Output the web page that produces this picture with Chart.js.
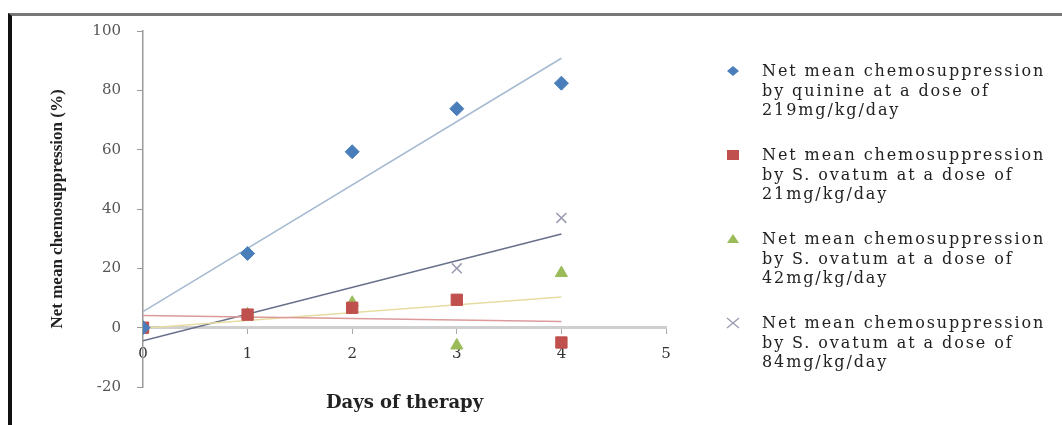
<!DOCTYPE html>
<html>
<head>
<meta charset="utf-8">
<title>Net mean chemosuppression</title>
<script src="https://cdn.jsdelivr.net/npm/chart.js@4.4.1/dist/chart.umd.min.js"></script>
<style>
  html, body { margin: 0; padding: 0; background: #fff; }
  #wrap { position: relative; width: 1062px; height: 425px; overflow: hidden; background: #fff; }
  #frame { position: absolute; left: 8px; top: 13px; right: -10px; bottom: -10px;
           border-left: 4px solid #111; border-top: 3px solid #777; }
  #chart { position: absolute; left: 0; top: 0; }
  #legend { position: absolute; left: 724px; top: 61px; font-family: "DejaVu Serif", serif;
            font-size: 16px; color: #222; letter-spacing: 1.9px; }
  .item { position: relative; height: 84px; }
  .item svg { position: absolute; left: 0; top: 2px; }
  .item .txt { position: absolute; left: 38px; top: 0; line-height: 19.5px; white-space: nowrap; }
</style>
</head>
<body>
<div id="wrap">
  <div id="frame"></div>
  <canvas id="chart" width="1062" height="425"></canvas>
  <div id="legend"></div>
</div>
<script>
// Days of therapy
const days = [0, 1, 2, 3, 4];

// Net mean chemosuppression (%)
const quinine219 = [0, 25, 59.3, 73.8, 82.4];
const ovatum21 = [0, 4.4, 6.7, 9.4, -5];
const ovatum42 = [0, 4.5, 8.4, -6, 18.4];
const ovatum84 = [0, 4, 7, 20, 37];

const seriesLabels = [
  ['Net mean chemosuppression', 'by quinine at a dose of', '219mg/kg/day'],
  ['Net mean chemosuppression', 'by S. ovatum at a dose of', '21mg/kg/day'],
  ['Net mean chemosuppression', 'by S. ovatum at a dose of', '42mg/kg/day'],
  ['Net mean chemosuppression', 'by S. ovatum at a dose of', '84mg/kg/day']
];

const xTitle = 'Days of therapy';
const yTitle = 'Net mean chemosuppression (%)';

const markerColors = ['#4a7ebb', '#c0504d', '#9bbb59', '#9a9ab2'];
const trendColors = ['#a6bad2', '#dc9a9a', '#e6dca2', '#66708a'];
const markerStyles = ['rectRot', 'rect', 'triangle', 'crossRot'];
const markerSizes = [7, 8, 7, 7];

// least squares line through a series, from first to last day
function trendLine(xs, ys) {
  const n = xs.length;
  const mx = xs.reduce((a, b) => a + b, 0) / n;
  const my = ys.reduce((a, b) => a + b, 0) / n;
  let sxy = 0, sxx = 0;
  for (let i = 0; i < n; i++) {
    sxy += (xs[i] - mx) * (ys[i] - my);
    sxx += (xs[i] - mx) * (xs[i] - mx);
  }
  const m = sxy / sxx;
  const b = my - m * mx;
  return [{ x: xs[0], y: b + m * xs[0] }, { x: xs[n - 1], y: b + m * xs[n - 1] }];
}

const allSeries = [quinine219, ovatum21, ovatum42, ovatum84];
const datasets = [];

allSeries.forEach((vals, i) => {
  datasets.push({
    label: seriesLabels[i].join(' '),
    data: days.map((d, k) => ({ x: d, y: vals[k] })),
    pointStyle: markerStyles[i],
    pointRadius: markerSizes[i],
    backgroundColor: markerColors[i],
    borderColor: markerColors[i],
    borderWidth: markerStyles[i] === 'crossRot' ? 1.5 : 1,
    showLine: false,
    order: 0
  });
});

allSeries.forEach((vals, i) => {
  datasets.push({
    label: 'trend ' + (i + 1),
    data: trendLine(days, vals),
    showLine: true,
    pointRadius: 0,
    borderColor: trendColors[i],
    borderWidth: 1.5,
    fill: false,
    order: 1
  });
});

const chart = new Chart(document.getElementById('chart'), {
  type: 'scatter',
  data: { datasets },
  options: {
    responsive: false,
    animation: false,
    layout: { padding: { left: 14, right: 396, top: 31, bottom: 38 } },
    plugins: {
      legend: { display: false },
      tooltip: { enabled: false }
    },
    scales: {
      x: {
        type: 'linear',
        min: 0,
        max: 5,
        position: { y: 0 },
        ticks: { stepSize: 1, padding: 12, color: '#333', font: { family: 'DejaVu Serif', size: 15 } },
        grid: { drawOnChartArea: false, tickLength: 5, color: '#aaa' },
        border: { color: '#cfcfcf', width: 3 },
        title: {
          display: true,
          text: xTitle,
          color: '#222',
          font: { family: 'DejaVu Serif', weight: 'bold', size: 18 },
          padding: { top: 0, bottom: -48 }
        },
        afterFit: (scale) => { scale.height = 38; }
      },
      y: {
        min: -20,
        max: 100,
        ticks: { stepSize: 20, padding: 16, color: '#555', font: { family: 'DejaVu Serif', size: 15 } },
        grid: { drawOnChartArea: false, tickLength: 6, color: '#999' },
        border: { color: '#999', width: 1.5 },
        title: {
          display: true,
          text: yTitle,
          color: '#222',
          font: { family: 'Liberation Serif', weight: 'bold', size: 17 },
          padding: { top: 33, bottom: 0 }
        },
        afterFit: (scale) => { scale.width = 129; }
      }
    }
  }
});

// HTML legend with multi-line labels, built from the marker datasets
function markerSvg(style, color) {
  let shape = '';
  if (style === 'rectRot') shape = `<polygon points="9,3 15,8 9,13 3,8" fill="${color}"/>`;
  else if (style === 'rect') shape = `<rect x="3" y="3" width="12" height="10" fill="${color}"/>`;
  else if (style === 'triangle') shape = `<polygon points="9,3 15,12 3,12" fill="${color}"/>`;
  else shape = `<path d="M3,3 L15,13 M15,3 L3,13" stroke="${color}" stroke-width="1.3" fill="none"/>`;
  return `<svg width="18" height="16" viewBox="0 0 18 16">${shape}</svg>`;
}

document.getElementById('legend').innerHTML = seriesLabels.map((lines, i) => `
  <div class="item">
    ${markerSvg(markerStyles[i], markerColors[i])}
    <div class="txt">${lines.join('<br>')}</div>
  </div>
`).join('');
</script>
</body>
</html>
